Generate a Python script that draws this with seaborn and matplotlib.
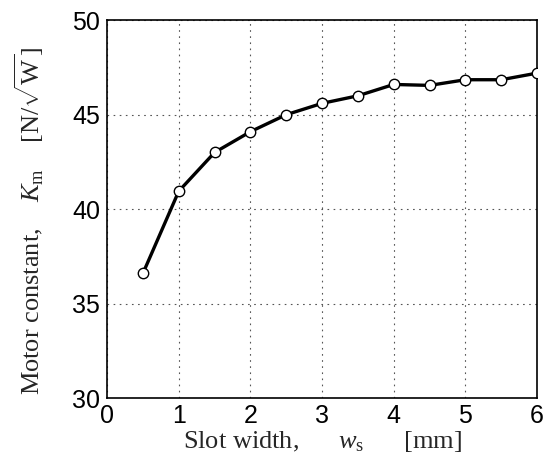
import matplotlib
matplotlib.use("Agg")
import matplotlib.pyplot as plt
import seaborn as sns
import pandas as pd

slot_width = [0.5, 1.0, 1.5, 2.0, 2.5, 3.0, 3.5, 4.0, 4.5, 5.0, 5.5, 6.0]
motor_constant = [36.6, 40.95, 43.0, 44.1, 45.0, 45.6, 46.0, 46.6, 46.55, 46.85, 46.85, 47.2]
x_ticks = [0, 1, 2, 3, 4, 5, 6]
y_ticks = [30, 35, 40, 45, 50]

sns.set_style("white")
plt.rcParams["font.family"] = ["Liberation Serif", "DejaVu Serif"]
plt.rcParams["mathtext.fontset"] = "custom"
plt.rcParams["mathtext.rm"] = "Liberation Serif"
plt.rcParams["mathtext.it"] = "Liberation Serif:italic"
plt.rcParams["mathtext.bf"] = "Liberation Serif:bold"

df = pd.DataFrame({"w": slot_width, "K": motor_constant})

fig = plt.figure(figsize=(5.52, 4.70), dpi=100)
ax = fig.add_axes([0.194, 0.153, 0.779, 0.804])

sns.lineplot(data=df, x="w", y="K", ax=ax, color="black", linewidth=2.4,
             marker="o", markersize=7.5, markerfacecolor="white",
             markeredgecolor="black", markeredgewidth=1.0, zorder=3)

ax.set_xlim(0, 6)
ax.set_ylim(30, 50)
ax.set_xticks(x_ticks)
ax.set_yticks(y_ticks)
ax.set_xticklabels([str(t) for t in x_ticks], family="Liberation Sans", fontsize=18)
ax.set_yticklabels([str(t) for t in y_ticks], family="Liberation Sans", fontsize=18)
ax.tick_params(axis="both", direction="in", length=5, width=1, colors="black")
ax.tick_params(axis="x", pad=4)
ax.tick_params(axis="y", pad=5)

ax.grid(True, color="#555555", linestyle=(0, (1.5, 4)), linewidth=0.8)
for s in ax.spines.values():
    s.set_color("black")
    s.set_linewidth(1.2)

ax.set_xlabel(r"Slot width,      $w_{\mathrm{s}}$      [mm]", fontsize=19, labelpad=1)
ax.set_ylabel(r"Motor constant,    $K_{\mathrm{m}}$    [N/$\sqrt{\mathrm{W}}$]", fontsize=19)
ax.yaxis.set_label_coords(-0.143, 0.468)

fig.savefig("out.png", dpi=100)
